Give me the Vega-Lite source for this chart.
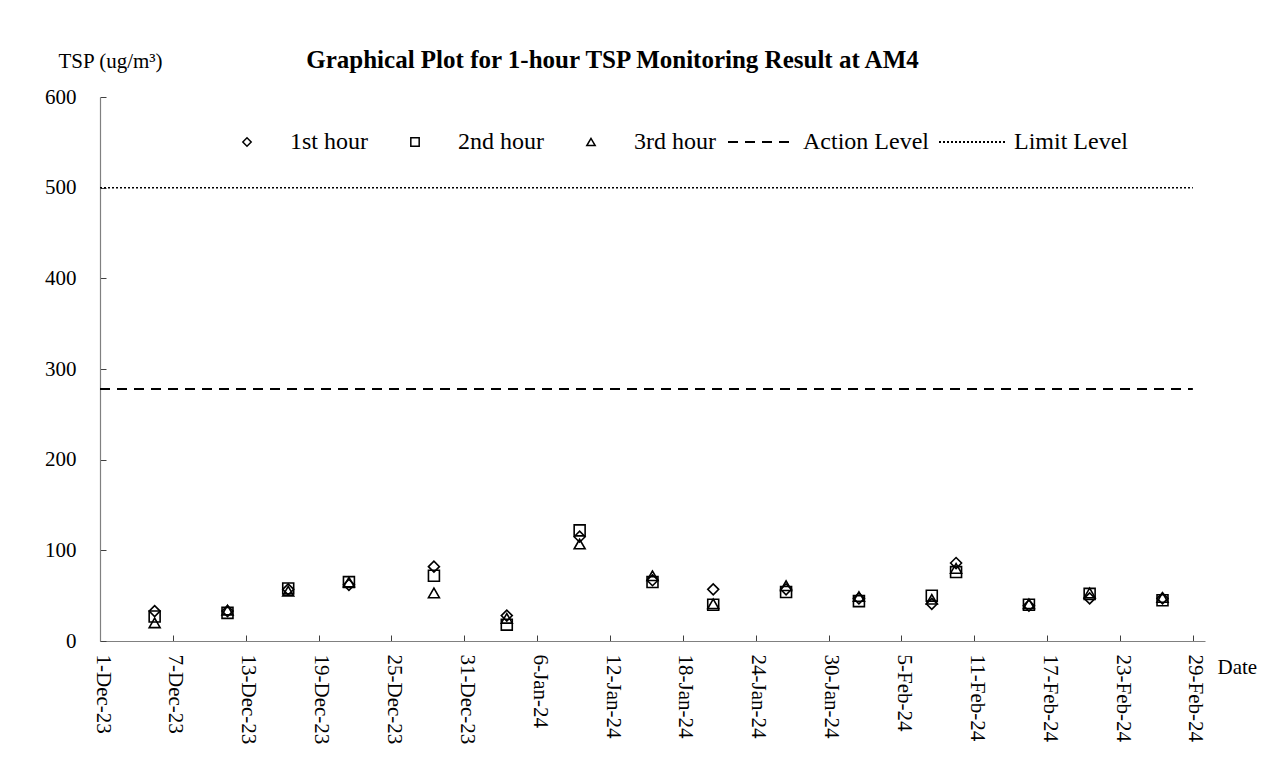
{
  "$schema": "https://vega.github.io/schema/vega-lite/v6.json",
  "width": 1105,
  "height": 544,
  "autosize": "none",
  "padding": {"left": 100, "top": 97, "right": 69, "bottom": 132},
  "background": "white",
  "config": {"font": "Liberation Serif", "view": {"stroke": null}},
  "title": {
    "text": "Graphical Plot for 1-hour TSP Monitoring Result at AM4",
    "font": "Liberation Serif",
    "fontSize": 25,
    "fontWeight": "bold",
    "color": "black",
    "anchor": "middle",
    "dx": -40,
    "dy": 47,
    "offset": 24
  },
  "datasets": {
    "levels": [
      {"level": "Action Level", "date": "2023-12-01T00:00:00", "value": 278},
      {"level": "Action Level", "date": "2024-02-29T00:00:00", "value": 278},
      {"level": "Limit Level", "date": "2023-12-01T00:00:00", "value": 500},
      {"level": "Limit Level", "date": "2024-02-29T00:00:00", "value": 500}
    ],
    "tsp": [
      {"date": "2023-12-05T12:00:00", "series": "1st hour", "value": 33},
      {"date": "2023-12-05T12:00:00", "series": "2nd hour", "value": 27},
      {"date": "2023-12-05T12:00:00", "series": "3rd hour", "value": 20},
      {"date": "2023-12-11T12:00:00", "series": "1st hour", "value": 33},
      {"date": "2023-12-11T12:00:00", "series": "2nd hour", "value": 31},
      {"date": "2023-12-11T12:00:00", "series": "3rd hour", "value": 34},
      {"date": "2023-12-16T12:00:00", "series": "1st hour", "value": 57},
      {"date": "2023-12-16T12:00:00", "series": "2nd hour", "value": 58},
      {"date": "2023-12-16T12:00:00", "series": "3rd hour", "value": 55},
      {"date": "2023-12-21T12:00:00", "series": "1st hour", "value": 62},
      {"date": "2023-12-21T12:00:00", "series": "2nd hour", "value": 65},
      {"date": "2023-12-21T12:00:00", "series": "3rd hour", "value": 65},
      {"date": "2023-12-28T12:00:00", "series": "1st hour", "value": 82},
      {"date": "2023-12-28T12:00:00", "series": "2nd hour", "value": 72},
      {"date": "2023-12-28T12:00:00", "series": "3rd hour", "value": 53},
      {"date": "2024-01-03T12:00:00", "series": "1st hour", "value": 28},
      {"date": "2024-01-03T12:00:00", "series": "2nd hour", "value": 18},
      {"date": "2024-01-03T12:00:00", "series": "3rd hour", "value": 25},
      {"date": "2024-01-09T12:00:00", "series": "1st hour", "value": 115},
      {"date": "2024-01-09T12:00:00", "series": "2nd hour", "value": 122},
      {"date": "2024-01-09T12:00:00", "series": "3rd hour", "value": 107},
      {"date": "2024-01-15T12:00:00", "series": "1st hour", "value": 67},
      {"date": "2024-01-15T12:00:00", "series": "2nd hour", "value": 65},
      {"date": "2024-01-15T12:00:00", "series": "3rd hour", "value": 72},
      {"date": "2024-01-20T12:00:00", "series": "1st hour", "value": 57},
      {"date": "2024-01-20T12:00:00", "series": "2nd hour", "value": 40},
      {"date": "2024-01-20T12:00:00", "series": "3rd hour", "value": 41},
      {"date": "2024-01-26T12:00:00", "series": "1st hour", "value": 57},
      {"date": "2024-01-26T12:00:00", "series": "2nd hour", "value": 54},
      {"date": "2024-01-26T12:00:00", "series": "3rd hour", "value": 61},
      {"date": "2024-02-01T12:00:00", "series": "1st hour", "value": 47},
      {"date": "2024-02-01T12:00:00", "series": "2nd hour", "value": 44},
      {"date": "2024-02-01T12:00:00", "series": "3rd hour", "value": 49},
      {"date": "2024-02-07T12:00:00", "series": "1st hour", "value": 41},
      {"date": "2024-02-07T12:00:00", "series": "2nd hour", "value": 50},
      {"date": "2024-02-07T12:00:00", "series": "3rd hour", "value": 46},
      {"date": "2024-02-09T12:00:00", "series": "1st hour", "value": 86},
      {"date": "2024-02-09T12:00:00", "series": "2nd hour", "value": 76},
      {"date": "2024-02-09T12:00:00", "series": "3rd hour", "value": 80},
      {"date": "2024-02-15T12:00:00", "series": "1st hour", "value": 39},
      {"date": "2024-02-15T12:00:00", "series": "2nd hour", "value": 40},
      {"date": "2024-02-15T12:00:00", "series": "3rd hour", "value": 41},
      {"date": "2024-02-20T12:00:00", "series": "1st hour", "value": 47},
      {"date": "2024-02-20T12:00:00", "series": "2nd hour", "value": 52},
      {"date": "2024-02-20T12:00:00", "series": "3rd hour", "value": 53},
      {"date": "2024-02-26T12:00:00", "series": "1st hour", "value": 47},
      {"date": "2024-02-26T12:00:00", "series": "2nd hour", "value": 45},
      {"date": "2024-02-26T12:00:00", "series": "3rd hour", "value": 48}
    ]
  },
  "encoding": {
    "x": {
      "field": "date",
      "type": "temporal",
      "scale": {"domain": [{"year": 2023, "month": 12, "date": 1}, {"year": 2024, "month": 3, "date": 1}], "nice": false},
      "axis": {
        "values": [
          {"year": 2023, "month": 12, "date": 1}, {"year": 2023, "month": 12, "date": 7},
          {"year": 2023, "month": 12, "date": 13}, {"year": 2023, "month": 12, "date": 19},
          {"year": 2023, "month": 12, "date": 25}, {"year": 2023, "month": 12, "date": 31},
          {"year": 2024, "month": 1, "date": 6}, {"year": 2024, "month": 1, "date": 12},
          {"year": 2024, "month": 1, "date": 18}, {"year": 2024, "month": 1, "date": 24},
          {"year": 2024, "month": 1, "date": 30}, {"year": 2024, "month": 2, "date": 5},
          {"year": 2024, "month": 2, "date": 11}, {"year": 2024, "month": 2, "date": 17},
          {"year": 2024, "month": 2, "date": 23}, {"year": 2024, "month": 2, "date": 29}
        ],
        "format": "%-d-%b-%y",
        "labelAngle": 90,
        "labelAlign": "left",
        "labelBaseline": "middle",
        "labelFont": "Liberation Serif",
        "labelFontSize": 21,
        "labelColor": "black",
        "labelPadding": 19,
        "labelOffset": 2,
        "labelFlush": false,
        "labelOverlap": false,
        "labelBound": false,
        "tickSize": -6,
        "tickColor": "#404040",
        "domainColor": "#808080",
        "domainWidth": 1.2,
        "grid": false,
        "title": "Date",
        "titleAngle": 0,
        "titleX": 1117,
        "titleY": 26,
        "titleAlign": "left",
        "titleBaseline": "middle",
        "titleFont": "Liberation Serif",
        "titleFontSize": 21,
        "titleFontWeight": "normal",
        "titleColor": "black"
      }
    },
    "y": {
      "field": "value",
      "type": "quantitative",
      "scale": {"domain": [0, 600], "nice": false},
      "axis": {
        "values": [0, 100, 200, 300, 400, 500, 600],
        "labelFont": "Liberation Serif",
        "labelFontSize": 21,
        "labelColor": "black",
        "labelPadding": 30,
        "tickSize": -6,
        "tickColor": "#404040",
        "domainColor": "#808080",
        "domainWidth": 1.2,
        "grid": false,
        "title": "TSP (ug/m³)",
        "titleAngle": 0,
        "titleX": -42,
        "titleY": -36,
        "titleAlign": "left",
        "titleBaseline": "middle",
        "titleFont": "Liberation Serif",
        "titleFontSize": 21,
        "titleFontWeight": "normal",
        "titleColor": "black"
      }
    }
  },
  "layer": [
    {
      "data": {"name": "levels"},
      "transform": [{"filter": "datum.level === 'Action Level'"}],
      "mark": {"type": "line", "color": "black", "strokeWidth": 2},
      "encoding": {
        "strokeDash": {
          "field": "level",
          "type": "nominal",
          "scale": {"domain": ["Action Level", "Limit Level"], "range": [[10, 7], [2, 2]]},
          "legend": {
            "orient": "none",
            "legendX": 627,
            "legendY": 10,
            "direction": "horizontal",
            "title": null,
            "symbolType": "stroke",
            "symbolSize": 4624,
            "symbolStrokeWidth": 2,
            "symbolStrokeColor": "black",
            "labelFont": "Liberation Serif",
            "labelFontSize": 24,
            "labelColor": "black",
            "labelOffset": 6,
            "columnPadding": 6,
            "padding": 0
          }
        }
      }
    },
    {
      "data": {"name": "levels"},
      "transform": [{"filter": "datum.level === 'Limit Level'"}],
      "mark": {"type": "line", "color": "black", "strokeWidth": 1.5},
      "encoding": {
        "strokeDash": {"field": "level", "type": "nominal"}
      }
    },
    {
      "data": {"name": "tsp"},
      "mark": {"type": "point", "filled": false, "stroke": "black", "strokeWidth": 1.6, "size": 120, "opacity": 1},
      "encoding": {
        "shape": {
          "field": "series",
          "type": "nominal",
          "scale": {"domain": ["1st hour", "2nd hour", "3rd hour"], "range": ["diamond", "square", "triangle-up"]},
          "legend": {
            "orient": "none",
            "legendX": 135,
            "legendY": 33,
            "direction": "horizontal",
            "title": null,
            "symbolSize": 70,
            "symbolStrokeWidth": 1.5,
            "symbolStrokeColor": "black",
            "symbolFillColor": "transparent",
            "labelFont": "Liberation Serif",
            "labelFontSize": 24,
            "labelColor": "black",
            "labelOffset": 31,
            "columnPadding": 35,
            "padding": 0
          }
        }
      }
    }
  ]
}
